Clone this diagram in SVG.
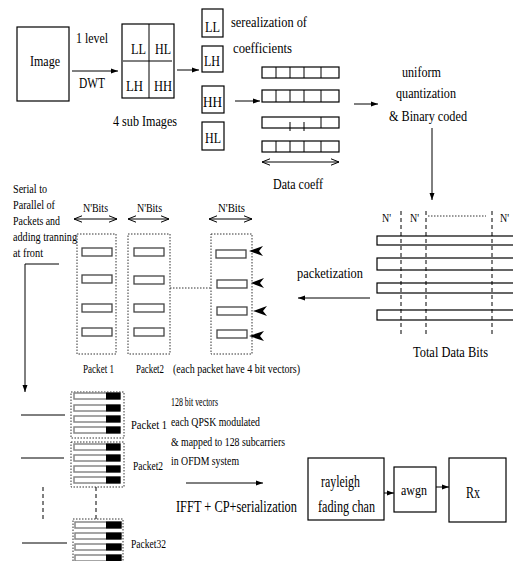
<svg xmlns="http://www.w3.org/2000/svg" width="513" height="561" viewBox="0 0 513 561">
<style>
text{font-family:"Liberation Serif","Times New Roman",serif;fill:#000}
.f15{font-size:15px}.f13{font-size:13px}.f17{font-size:17px}.f16{font-size:16px}
.box{fill:none;stroke:#000;stroke-width:1.2}
.ln{fill:none;stroke:#000;stroke-width:1}
.dot{fill:none;stroke:#333;stroke-width:1;stroke-dasharray:1.5,1.5}
.dash{fill:none;stroke:#000;stroke-width:1;stroke-dasharray:4,3}
.cell{fill:#fff;stroke:#000;stroke-width:1.2}
.vec{fill:#fff;stroke:#444;stroke-width:1.3}
.bar{fill:#fff;stroke:#888;stroke-width:1.5}
.blk{fill:#000}
.ptr{fill:#000}
</style>
<defs>
<marker id="ah" markerWidth="8" markerHeight="6" refX="7" refY="3" orient="auto" markerUnits="userSpaceOnUse"><path d="M0,0.5 L7,3 L0,5.5 z" fill="#000"/></marker>
<marker id="oh" markerWidth="10" markerHeight="8" refX="9" refY="4" orient="auto-start-reverse" markerUnits="userSpaceOnUse"><path d="M1,0.8 L9,4 L1,7.2" fill="none" stroke="#000" stroke-width="1"/></marker>
</defs>

<g id="image">
<rect class="box" x="17" y="27" width="52" height="74"/>
<text class="f15" x="30" y="66" textLength="30" lengthAdjust="spacingAndGlyphs">Image</text>
</g>
<g id="dwt-label">
<text class="f15" x="76" y="43" textLength="32" lengthAdjust="spacingAndGlyphs">1 level</text>
<text class="f15" x="79" y="88" textLength="26" lengthAdjust="spacingAndGlyphs">DWT</text>
</g>
<g id="subimages">
<rect class="box" x="122" y="24" width="52" height="74"/>
<line class="ln" x1="149" y1="24" x2="149" y2="98"/>
<line class="ln" x1="123" y1="61" x2="172" y2="61"/>
<text class="f15" x="131" y="54" textLength="15" lengthAdjust="spacingAndGlyphs">LL</text>
<text class="f15" x="155" y="54" textLength="16" lengthAdjust="spacingAndGlyphs">HL</text>
<text class="f15" x="126" y="91" textLength="17" lengthAdjust="spacingAndGlyphs">LH</text>
<text class="f15" x="154" y="91" textLength="18" lengthAdjust="spacingAndGlyphs">HH</text>
<text class="f15" x="113" y="126" textLength="64" lengthAdjust="spacingAndGlyphs">4 sub Images</text>
</g>
<g id="band-LL"><rect class="box" x="202" y="9" width="21" height="28"/><text class="f15" x="205" y="32" textLength="15" lengthAdjust="spacingAndGlyphs">LL</text></g>
<g id="band-LH"><rect class="box" x="202" y="46" width="21" height="26"/><text class="f15" x="204" y="66" textLength="16" lengthAdjust="spacingAndGlyphs">LH</text></g>
<g id="band-HH"><rect class="box" x="202" y="86" width="22" height="27"/><text class="f15" x="203" y="107" textLength="19" lengthAdjust="spacingAndGlyphs">HH</text></g>
<g id="band-HL"><rect class="box" x="202" y="122" width="22" height="28"/><text class="f15" x="205" y="143" textLength="16" lengthAdjust="spacingAndGlyphs">HL</text></g>
<g id="serial-label">
<text class="f15" x="231" y="27" textLength="76" lengthAdjust="spacingAndGlyphs">serealization of</text>
<text class="f15" x="233" y="53" textLength="59" lengthAdjust="spacingAndGlyphs">coefficients</text>
</g>
<g id="data-coeff">
<rect class="cell" x="262" y="67" width="77" height="11"/>
<path class="ln" d="M276,67V78M290,67V78M304,67V78M321,67V78"/>
<rect class="cell" x="262" y="90" width="77" height="12"/>
<path class="ln" d="M276,90V102M290,90V102M304,90V102M321,90V102"/>
<rect class="cell" x="262" y="117" width="77" height="11"/>
<path class="ln" d="M290,122V131M304,122V131M321,117V128"/>
<rect class="cell" x="262" y="141" width="77" height="11"/>
<path class="ln" d="M276,141V152M290,141V152M304,141V152M321,141V152"/>
<text class="f15" x="273" y="189" textLength="50" lengthAdjust="spacingAndGlyphs">Data coeff</text>
</g>
<g id="quant">
<text class="f15" x="402" y="77" textLength="39" lengthAdjust="spacingAndGlyphs">uniform</text>
<text class="f15" x="396" y="98" textLength="60" lengthAdjust="spacingAndGlyphs">quantization</text>
<text class="f15" x="389" y="121" textLength="78" lengthAdjust="spacingAndGlyphs">&amp; Binary coded</text>
</g>
<g id="total-data-bits">
<rect class="cell" x="377" y="236" width="140" height="9"/>
<rect class="cell" x="377" y="258" width="140" height="12"/>
<rect class="cell" x="377" y="283" width="140" height="10"/>
<rect class="cell" x="377" y="310" width="140" height="10"/>
<path class="dash" d="M401,211V335M426,211V335M492,211V335"/>
<line class="dot" x1="428" y1="216" x2="486" y2="216"/>
<text class="f13" x="382" y="222" textLength="9" lengthAdjust="spacingAndGlyphs">N'</text>
<text class="f13" x="410" y="222" textLength="9" lengthAdjust="spacingAndGlyphs">N'</text>
<text class="f13" x="500" y="222" textLength="9" lengthAdjust="spacingAndGlyphs">N'</text>
<text class="f15" x="413" y="357" textLength="75" lengthAdjust="spacingAndGlyphs">Total Data Bits</text>
</g>
<g id="packetization-label">
<text class="f15" x="297" y="278" textLength="66" lengthAdjust="spacingAndGlyphs">packetization</text>
</g>
<g id="sp-label">
<text class="f13" x="13" y="193" textLength="34" lengthAdjust="spacingAndGlyphs">Serial to</text>
<text class="f13" x="13" y="209" textLength="42" lengthAdjust="spacingAndGlyphs">Parallel of</text>
<text class="f13" x="13" y="225" textLength="47" lengthAdjust="spacingAndGlyphs">Packets and</text>
<text class="f13" x="13" y="241" textLength="64" lengthAdjust="spacingAndGlyphs">adding tranning</text>
<text class="f13" x="13" y="257" textLength="30" lengthAdjust="spacingAndGlyphs">at front</text>
</g>
<g id="packet1">
<text class="f13" x="83" y="212" textLength="25" lengthAdjust="spacingAndGlyphs">N'Bits</text>
<rect class="dot" x="77" y="234" width="39" height="120"/>
<rect class="vec" x="82" y="248" width="30" height="8"/>
<rect class="vec" x="82" y="275" width="30" height="8"/>
<rect class="vec" x="82" y="304" width="30" height="8"/>
<rect class="vec" x="82" y="328" width="30" height="8"/>
<text class="f13" x="83" y="373" textLength="31" lengthAdjust="spacingAndGlyphs">Packet 1</text>
</g>
<g id="packet2">
<text class="f13" x="137" y="212" textLength="25" lengthAdjust="spacingAndGlyphs">N'Bits</text>
<rect class="dot" x="128" y="234" width="42" height="120"/>
<rect class="vec" x="134" y="248" width="30" height="8"/>
<rect class="vec" x="134" y="276" width="30" height="8"/>
<rect class="vec" x="134" y="304" width="30" height="8"/>
<rect class="vec" x="134" y="328" width="30" height="8"/>
<text class="f13" x="136" y="373" textLength="28" lengthAdjust="spacingAndGlyphs">Packet2</text>
<text class="f13" x="173" y="373" textLength="127" lengthAdjust="spacingAndGlyphs">(each packet have 4 bit vectors)</text>
</g>
<g id="packetN">
<text class="f13" x="218" y="212" textLength="27" lengthAdjust="spacingAndGlyphs">N'Bits</text>
<rect class="dot" x="211" y="234" width="41" height="120"/>
<rect class="vec" x="216" y="250" width="30" height="8"/>
<rect class="vec" x="217" y="280" width="30" height="8"/>
<rect class="vec" x="217" y="307" width="30" height="8"/>
<rect class="vec" x="217" y="330" width="30" height="8"/>
<path class="ptr" d="M249,251 L263,246 L259,251 L263,256 z"/>
<path class="ptr" d="M251,283 L264,278 L260,283 L264,288 z"/>
<path class="ptr" d="M253,311 L267,306 L263,311 L267,316 z"/>
<path class="ptr" d="M249,336 L264,331 L260,336 L264,341 z"/>
</g>
<g id="ofdm-packet1">
<rect class="dot" x="71" y="392" width="53" height="46"/>
<rect class="bar" x="74" y="393" width="46" height="6"/><rect class="blk" x="106" y="392.5" width="14.5" height="7"/>
<rect class="bar" x="74" y="405" width="46" height="6"/><rect class="blk" x="106" y="404.5" width="14.5" height="7"/>
<rect class="bar" x="74" y="416" width="46" height="6"/><rect class="blk" x="106" y="415.5" width="14.5" height="7"/>
<rect class="bar" x="74" y="427" width="46" height="6"/><rect class="blk" x="106" y="426.5" width="14.5" height="7"/>
<text class="f13" x="131" y="429" textLength="36" lengthAdjust="spacingAndGlyphs">Packet 1</text>
</g>
<g id="ofdm-packet2">
<rect class="dot" x="71" y="442" width="53" height="45"/>
<rect class="bar" x="74" y="444" width="46" height="6"/><rect class="blk" x="106" y="443.5" width="14.5" height="7"/>
<rect class="bar" x="74" y="455" width="46" height="6"/><rect class="blk" x="106" y="454.5" width="14.5" height="7"/>
<rect class="bar" x="74" y="466" width="46" height="6"/><rect class="blk" x="106" y="465.5" width="14.5" height="7"/>
<rect class="bar" x="74" y="477" width="46" height="6"/><rect class="blk" x="106" y="476.5" width="14.5" height="7"/>
<text class="f13" x="133" y="470" textLength="30" lengthAdjust="spacingAndGlyphs">Packet2</text>
</g>
<g id="ofdm-packet32">
<rect class="dot" x="73" y="519" width="50" height="46"/>
<rect class="bar" x="75" y="522" width="46" height="6"/><rect class="blk" x="106" y="521.5" width="15.5" height="7"/>
<rect class="bar" x="75" y="533" width="46" height="6"/><rect class="blk" x="106" y="532.5" width="15.5" height="7"/>
<rect class="bar" x="75" y="544" width="46" height="6"/><rect class="blk" x="106" y="543.5" width="15.5" height="7"/>
<rect class="bar" x="75" y="555" width="46" height="6"/><rect class="blk" x="106" y="554.5" width="15.5" height="7"/>
<text class="f13" x="131" y="548" textLength="35" lengthAdjust="spacingAndGlyphs">Packet32</text>
</g>
<g id="ofdm-label">
<text class="f13" x="171" y="406" textLength="47" lengthAdjust="spacingAndGlyphs">128 bit vectors</text>
<text class="f13" x="171" y="426" textLength="89" lengthAdjust="spacingAndGlyphs">each QPSK modulated</text>
<text class="f13" x="171" y="446" textLength="114" lengthAdjust="spacingAndGlyphs">&amp; mapped to 128 subcarriers</text>
<text class="f13" x="171" y="465" textLength="68" lengthAdjust="spacingAndGlyphs">in OFDM system</text>
<text class="f17" x="176" y="512" textLength="121" lengthAdjust="spacingAndGlyphs">IFFT + CP+serialization</text>
</g>
<g id="rayleigh">
<rect class="box" x="308" y="458" width="76" height="62"/>
<text class="f16" x="321" y="487" textLength="39" lengthAdjust="spacingAndGlyphs">rayleigh</text>
<text class="f16" x="318" y="512" textLength="57" lengthAdjust="spacingAndGlyphs">fading chan</text>
</g>
<g id="awgn">
<rect class="box" x="394" y="467" width="42" height="45"/>
<text class="f15" x="401" y="495" textLength="26" lengthAdjust="spacingAndGlyphs">awgn</text>
</g>
<g id="rx">
<rect class="box" x="449" y="458" width="57" height="64"/>
<text class="f17" x="466" y="498" textLength="14" lengthAdjust="spacingAndGlyphs">Rx</text>
</g>

<g id="connectors">
<line class="ln" x1="72" y1="71" x2="118" y2="71" marker-end="url(#ah)"/>
<line class="ln" x1="177" y1="70" x2="199" y2="70" marker-end="url(#ah)"/>
<line class="ln" x1="235" y1="101" x2="260" y2="101" marker-end="url(#ah)"/>
<line class="ln" x1="262" y1="162" x2="339" y2="162" marker-start="url(#oh)" marker-end="url(#oh)"/>
<line class="ln" x1="354" y1="104" x2="378" y2="104" marker-end="url(#ah)"/>
<line class="ln" x1="432" y1="128" x2="432" y2="200" marker-end="url(#ah)"/>
<line class="ln" x1="370" y1="298" x2="298" y2="298" marker-end="url(#ah)"/>
<line class="ln" x1="74" y1="219" x2="117" y2="219" marker-start="url(#oh)" marker-end="url(#oh)"/>
<line class="ln" x1="128" y1="219" x2="169" y2="219" marker-start="url(#oh)" marker-end="url(#oh)"/>
<line class="ln" x1="209" y1="219" x2="252" y2="219" marker-start="url(#oh)" marker-end="url(#oh)"/>
<line class="dot" x1="170" y1="288" x2="211" y2="288"/>
<polyline class="ln" points="59,264 25,264 25,392" marker-end="url(#ah)"/>
<line class="ln" x1="21" y1="415" x2="65" y2="415"/>
<line class="ln" x1="21" y1="458" x2="64" y2="458"/>
<line class="ln" x1="22" y1="543" x2="67" y2="543"/>
<line class="dash" x1="43" y1="487" x2="43" y2="520"/>
<line class="dash" x1="96" y1="487" x2="96" y2="519"/>
<line class="ln" x1="186" y1="483" x2="263" y2="483" marker-end="url(#ah)"/>
<line class="ln" x1="384" y1="493" x2="394" y2="493" marker-end="url(#ah)"/>
<line class="ln" x1="436" y1="487" x2="449" y2="487" marker-end="url(#ah)"/>
</g>
</svg>
